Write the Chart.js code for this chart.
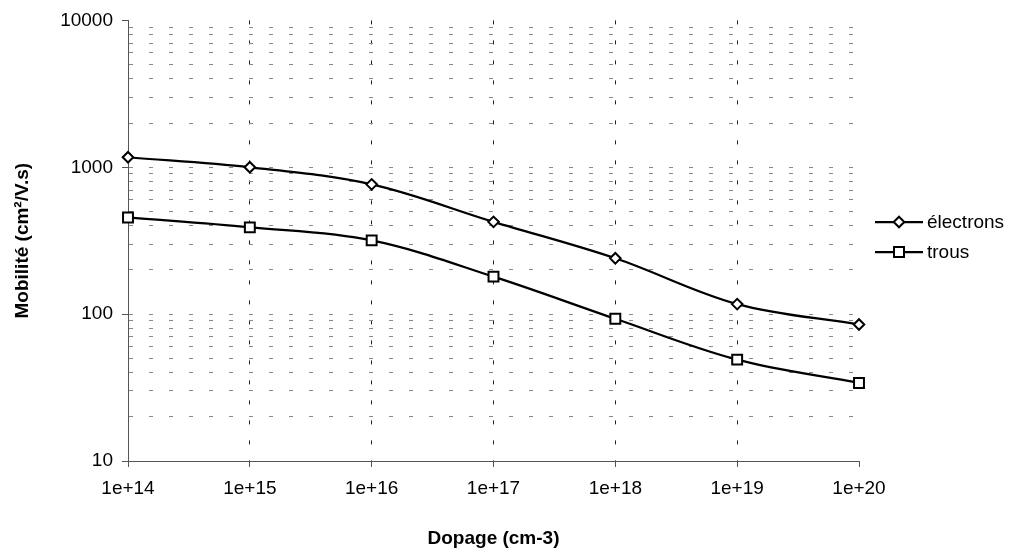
<!DOCTYPE html>
<html>
<head>
<meta charset="utf-8">
<script src="https://cdn.jsdelivr.net/npm/chart.js@4/dist/chart.umd.min.js"></script>
<style>
  html, body { margin: 0; padding: 0; background: #fff; }
  #wrap { width: 1009px; height: 551px; }
</style>
</head>
<body>
<div id="wrap"><canvas id="mobChart" width="1009" height="551"></canvas></div>
<script>
// données
const dopage = ['1e+14', '1e+15', '1e+16', '1e+17', '1e+18', '1e+19', '1e+20'];
const electrons = [1170, 1000, 765, 425, 240, 117, 85];
const trous = [455, 390, 318, 180, 93, 49, 34];
const majorTicks = [10, 100, 1000, 10000];

const FONT = "'Liberation Sans', Arial, sans-serif";
const AXIS = '#555';

// ticks log : 1..9 x 10^n
const yTicks = [];
majorTicks.forEach((m, i) => {
    if (i === majorTicks.length - 1) { yTicks.push(m); return; }
    for (let k = 1; k < 10; k++) yTicks.push(m * k);
});

// légende dessinée à la main (trait + marqueur)
const legendPlugin = {
    id: 'excelLegend',
    afterDraw(chart) {
        const ctx = chart.ctx;
        const rows = [222, 252];
        chart.data.datasets.forEach((ds, i) => {
            const y = rows[i];
            ctx.save();
            ctx.strokeStyle = '#000';
            ctx.lineWidth = 2.25;
            ctx.beginPath();
            ctx.moveTo(875, y); ctx.lineTo(923, y);
            ctx.stroke();
            ctx.fillStyle = '#fff';
            ctx.lineWidth = 2;
            ctx.beginPath();
            if (ds.pointStyle === 'rect') {
                ctx.rect(899 - 5, y - 5, 10, 10);
            } else {
                ctx.moveTo(899, y - 5.3); ctx.lineTo(904.3, y);
                ctx.lineTo(899, y + 5.3); ctx.lineTo(893.7, y);
                ctx.closePath();
            }
            ctx.fill(); ctx.stroke();
            ctx.fillStyle = '#000';
            ctx.font = '19px ' + FONT;
            ctx.textBaseline = 'middle';
            ctx.textAlign = 'left';
            ctx.fillText(ds.label, 927, y + 1);
            ctx.restore();
        });
    }
};

new Chart(document.getElementById('mobChart'), {
    type: 'line',
    data: {
        labels: dopage,
        datasets: [
            {
                label: 'électrons',
                data: electrons,
                borderColor: '#000',
                borderWidth: 2.25,
                tension: 0.35,
                pointStyle: 'rectRot',
                pointRadius: 5.3,
                pointBorderWidth: 2,
                pointBackgroundColor: '#fff',
                pointBorderColor: '#000'
            },
            {
                label: 'trous',
                data: trous,
                borderColor: '#000',
                borderWidth: 2.25,
                tension: 0.35,
                pointStyle: 'rect',
                pointRadius: 7,
                pointBorderWidth: 2,
                pointBackgroundColor: '#fff',
                pointBorderColor: '#000'
            }
        ]
    },
    options: {
        responsive: false,
        animation: false,
        layout: { padding: { left: 0, top: 19, right: 150, bottom: 0 } },
        plugins: { legend: { display: false }, tooltip: { enabled: false } },
        scales: {
            x: {
                type: 'category',
                offset: false,
                afterFit: s => { s.height = 90; },
                grid: {
                    color: c => (c.index > 0 && c.index < dopage.length - 1) ? '#222' : 'rgba(0,0,0,0)',
                    lineWidth: 1,
                    tickColor: AXIS,
                    tickLength: 6,
                    tickBorderDash: []
                },
                border: { color: AXIS, width: 1, dash: [4, 16] },
                ticks: { color: '#000', font: { family: FONT, size: 19 }, padding: 10, maxRotation: 0, autoSkip: false },
                title: {
                    display: true,
                    text: 'Dopage (cm-3)',
                    color: '#000',
                    font: { family: FONT, size: 19, weight: 'bold' },
                    padding: { top: 0, bottom: 1 }
                }
            },
            y: {
                type: 'logarithmic',
                min: 10,
                max: 10000,
                afterFit: s => { s.width = 128; },
                afterBuildTicks: s => {
                    s.ticks = yTicks.map(v => ({ value: v, major: majorTicks.includes(v) }));
                },
                grid: {
                    color: c => (c.tick && (c.tick.value === 10 || c.tick.value === 10000)) ? 'rgba(0,0,0,0)' : '#8a8a8a',
                    lineWidth: 1,
                    tickColor: c => (c.tick && majorTicks.includes(c.tick.value)) ? AXIS : 'rgba(0,0,0,0)',
                    tickLength: 6,
                    tickBorderDash: []
                },
                border: { color: AXIS, width: 1, dash: [4, 16] },
                ticks: {
                    color: '#000',
                    font: { family: FONT, size: 19 },
                    padding: 9,
                    autoSkip: false,
                    callback: v => majorTicks.includes(v) ? String(v) : ''
                },
                title: {
                    display: true,
                    text: 'Mobilité (cm²/V.s)',
                    color: '#000',
                    font: { family: FONT, size: 19, weight: 'bold' },
                    padding: { top: 11, bottom: 0 }
                }
            }
        }
    },
    plugins: [legendPlugin]
});
</script>
</body>
</html>
